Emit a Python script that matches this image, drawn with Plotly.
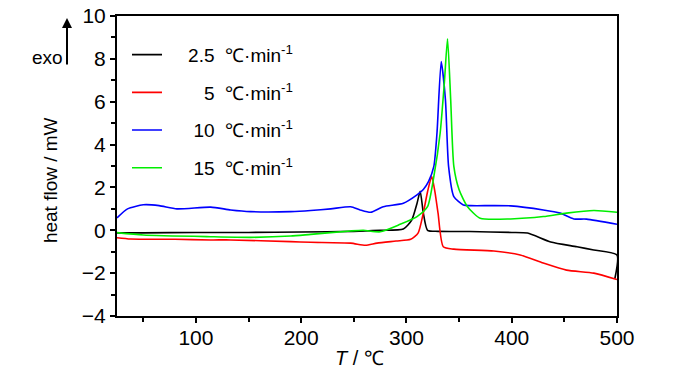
import plotly.graph_objects as go

# ---- data ----
t_black = [25, 50, 100, 150, 200, 250, 275, 297, 305, 310, 313, 316, 320, 330, 360, 400, 415, 437, 462, 478, 500, 498]
v_black = [-0.12, -0.12, -0.1, -0.1, -0.08, -0.05, 0.0, 0.06, 0.48, 1.25, 1.82, 0.81, 0.0, -0.05, -0.06, -0.1, -0.13, -0.55, -0.77, -0.92, -1.15, -2.25]

t_red = [25, 38, 80, 114, 133, 190, 209, 247, 261, 272, 290, 304, 311, 316, 320, 324, 327, 330, 335, 345, 383, 408, 430, 452, 478, 500]
v_red = [-0.35, -0.41, -0.42, -0.45, -0.45, -0.53, -0.56, -0.6, -0.7, -0.6, -0.5, -0.42, -0.13, 0.81, 1.8, 2.51, 1.8, 0.8, -0.77, -0.88, -0.97, -1.15, -1.53, -1.86, -2.0, -2.3]

t_blue = [25, 35, 50, 65, 82, 114, 133, 152, 190, 209, 228, 247, 256, 266, 278, 297, 310, 316, 321, 326, 329, 333, 337, 340, 345, 354, 361, 399, 430, 446, 459, 471, 500]
v_blue = [0.58, 1.0, 1.19, 1.15, 1.0, 1.08, 0.95, 0.87, 0.87, 0.92, 1.0, 1.1, 0.95, 0.84, 1.1, 1.26, 1.65, 1.9, 2.28, 2.98, 4.55, 7.87, 6.1, 2.98, 1.57, 1.18, 1.15, 1.14, 0.95, 0.8, 0.53, 0.52, 0.28]

t_green = [25, 50, 114, 152, 190, 209, 247, 259, 275, 294, 310, 320, 326, 332, 336, 339, 342, 345, 350, 358, 370, 399, 430, 452, 478, 500]
v_green = [-0.11, -0.22, -0.3, -0.33, -0.27, -0.19, -0.03, 0.0, -0.07, 0.28, 0.64, 1.1, 2.51, 4.54, 6.89, 8.94, 6.1, 2.98, 1.89, 1.1, 0.56, 0.53, 0.64, 0.8, 0.92, 0.84]

NB = "\u00a0"   # no-break space
FS = "\u2007"   # figure space (digit width)
UNIT = NB + NB + "℃·min<sup>-1</sup>"
series_names = [NB * 4 + "2.5" + UNIT,
                NB * 3 + FS * 2 + "5" + UNIT,
                NB + FS * 2 + "10" + UNIT,
                NB + FS * 2 + "15" + UNIT]
series_colors = ["#000000", "#ff0000", "#0000ff", "#00ee00"]

x_ticks = [100, 200, 300, 400, 500]
y_ticks = [-4, -2, 0, 2, 4, 6, 8, 10]

FONT = "Liberation Sans, Arial, sans-serif"

fig = go.Figure()
for i, (t, v) in enumerate([(t_black, v_black), (t_red, v_red), (t_blue, v_blue), (t_green, v_green)]):
    fig.add_trace(go.Scatter(x=t, y=v, mode="lines", name=series_names[i],
                             legendgroup=str(i),
                             line=dict(color=series_colors[i], width=1.6, shape="spline", smoothing=0.6)))

axis_common = dict(showline=True, linecolor="black", linewidth=2, mirror=True,
                   ticks="outside", tickcolor="black", tickwidth=2, ticklen=5,
                   showgrid=False, zeroline=False, ticklabeloverflow="allow",
                   automargin=False,
                   tickfont=dict(family=FONT, size=21, color="black"))

fig.update_xaxes(range=[25, 500], tickvals=x_ticks, ticklabelstandoff=-3,
                 minor=dict(dtick=50, ticks="outside", ticklen=4, tickwidth=2, tickcolor="black"),
                 **axis_common)
fig.update_yaxes(range=[-4, 10], tickvals=y_ticks,
                 minor=dict(dtick=1, ticks="outside", ticklen=4, tickwidth=2, tickcolor="black"),
                 **axis_common)

fig.update_layout(
    width=700, height=374,
    margin=dict(l=117, r=83, t=16, b=58, autoexpand=False),
    paper_bgcolor="white", plot_bgcolor="white",
    font=dict(family=FONT, size=19, color="black"),
    showlegend=True,
    legend=dict(x=0.02, y=0.934, xanchor="left", yanchor="top",
                bgcolor="rgba(0,0,0,0)", tracegroupgap=10,
                font=dict(family=FONT, size=19, color="black")),
    annotations=[
        dict(text="heat flow / mW", x=-0.134, y=0.453, xref="paper", yref="paper",
             xanchor="center", yanchor="middle",
             textangle=-90, showarrow=False, font=dict(size=19)),
        dict(text="<i>T</i> / ℃", x=0.484, y=-0.14, xref="paper", yref="paper",
             xanchor="center", yanchor="middle",
             showarrow=False, font=dict(size=20)),
        dict(text="exo", x=-0.14, y=0.863, xref="paper", yref="paper",
             xanchor="center", yanchor="middle",
             showarrow=False, font=dict(size=19)),
        dict(text="", x=-0.1, y=0.993, xref="paper", yref="paper",
             showarrow=True, ax=0, ay=48, arrowhead=2, arrowsize=1, arrowwidth=2, arrowcolor="black"),
    ],
)

fig.write_html("out.html", config={"displayModeBar": False},
               post_script="document.body.style.margin='0';document.body.style.padding='0';")
